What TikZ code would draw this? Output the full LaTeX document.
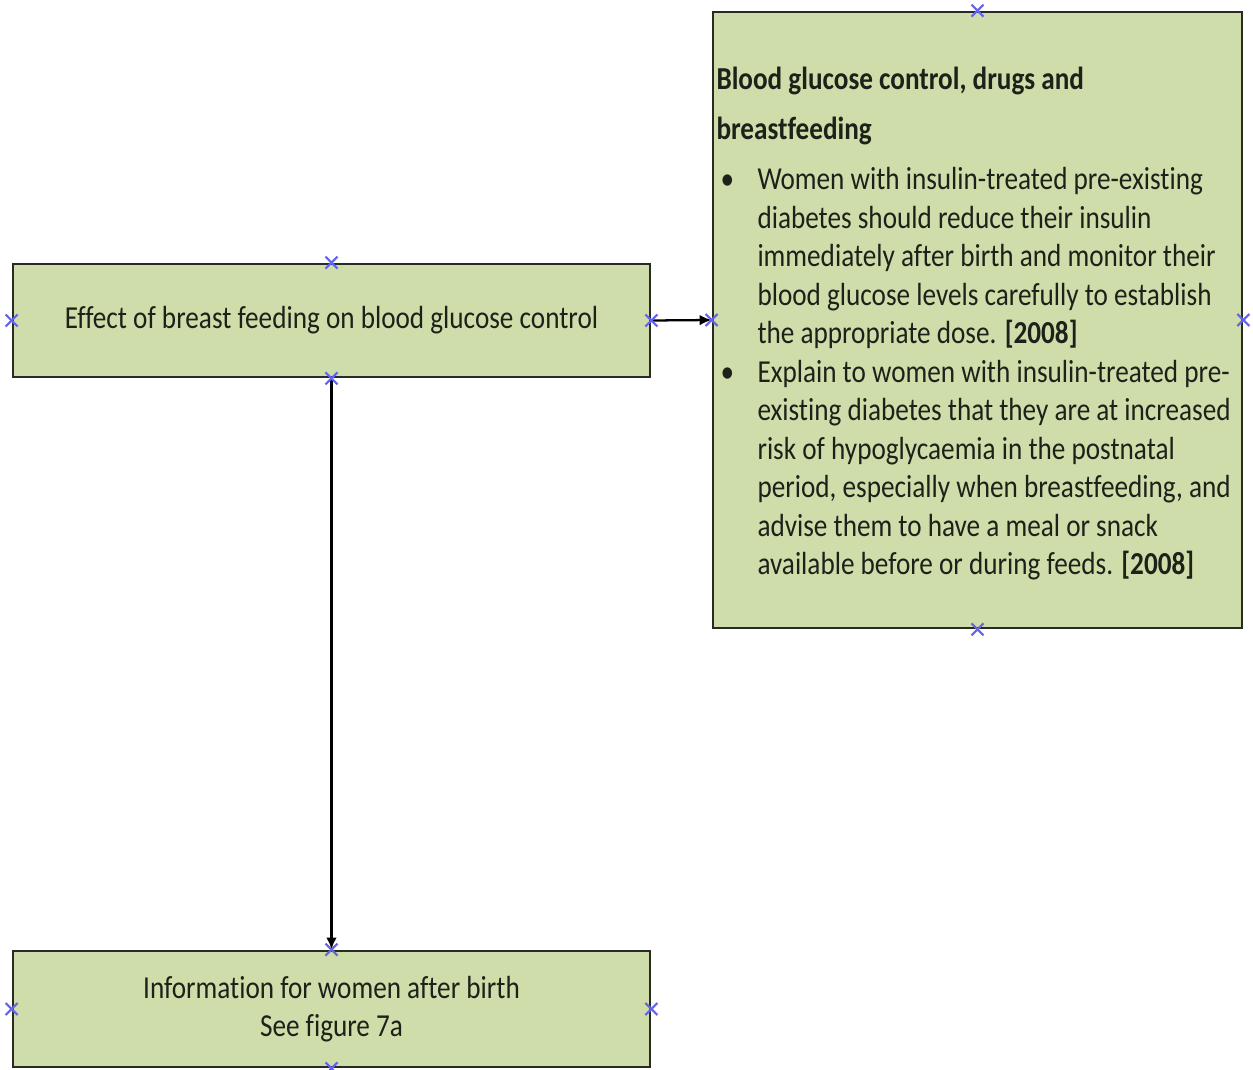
\documentclass[tikz,border=0pt]{standalone}
\usepackage{fontspec}
\setmainfont{Carlito}[FakeStretch=0.85, Ligatures={NoCommon}]
\usetikzlibrary{arrows.meta}

\definecolor{boxgreen}{RGB}{206,221,169}
\definecolor{markblue}{RGB}{100,100,230}
\definecolor{inkgrey}{RGB}{30,33,26}

\tikzset{every picture/.style={line width=0.75pt}}
\tikzset{
  greenbox/.style={draw={rgb, 255:red, 40; green, 42; blue, 38}, line width=2.2, fill=boxgreen, inner sep=0pt, text=inkgrey},
  boxfont/.style={font=\fontsize{24}{28.9}\selectfont},
  xmark/.style={draw=markblue, line width=1.6},
  link/.style={line width=1.7, -{Latex[length=9pt,width=8pt]}}
}

\begin{document}
\begin{tikzpicture}[x=0.75pt,y=0.75pt,yscale=-1,xscale=1]
%set diagram left start at 0, and has height of 1070
\useasboundingbox (0,0) rectangle (1253,1070);

%Shape: Rectangle [id:effect]
\node [greenbox, boxfont, minimum width=637*0.75pt, minimum height=113*0.75pt] (effect) at (331.5,320.5) {Effect of breast feeding on blood glucose control};
%Shape: Rectangle [id:guide]
\node [greenbox, minimum width=529*0.75pt, minimum height=616*0.75pt] (guide) at (977.5,320) {};
%Shape: Rectangle [id:info]
\node [greenbox, boxfont, align=center, minimum width=637*0.75pt, minimum height=116*0.75pt] (info) at (331.5,1009) {Information for women after birth\\See figure 7a};

% Text Node
\node [anchor=north west, inner sep=0pt, boxfont, text=inkgrey, align=left] (guidetext) at (716,67) {%
{\bfseries Blood glucose control, drugs and}\\[7.9pt]
{\bfseries breastfeeding}\\[9pt]
\makebox[30.75pt][l]{\hspace*{3pt}\textbullet}Women with insulin-treated pre-existing\\
\hspace*{30.75pt}diabetes should reduce their insulin\\
\hspace*{30.75pt}immediately after birth and monitor their\\
\hspace*{30.75pt}blood glucose levels carefully to establish\\
\hspace*{30.75pt}the appropriate dose. {\bfseries [2008]}\\
\makebox[30.75pt][l]{\hspace*{3pt}\textbullet}Explain to women with insulin-treated pre-\\
\hspace*{30.75pt}existing diabetes that they are at increased\\
\hspace*{30.75pt}risk of hypoglycaemia in the postnatal\\
\hspace*{30.75pt}period, especially when breastfeeding, and\\
\hspace*{30.75pt}advise them to have a meal or snack\\
\hspace*{30.75pt}available before or during feeds. {\bfseries [2008]}};

%Straight Lines [id:toguide]
\draw [link] (effect.east) -- (guide.west) ;
%Straight Lines [id:toinfo]
\draw [link] (effect.south) -- (info.north) ;

%Connection points
\foreach \b in {effect,guide,info}
  \foreach \a in {north,south,east,west}
    \draw [xmark] (\b.\a) +(-6,-6) -- +(6,6) +(-6,6) -- +(6,-6);

\end{tikzpicture}
\end{document}
